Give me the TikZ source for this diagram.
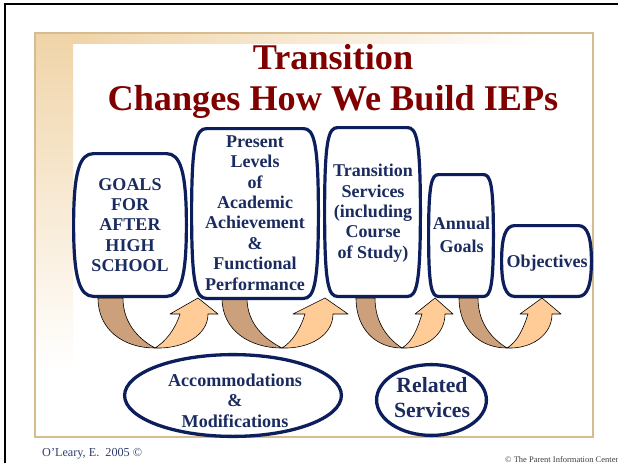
\documentclass[tikz,border=0pt]{standalone}
\usepackage{fontspec}
\setmainfont{Liberation Serif}
\usetikzlibrary{shapes.geometric}
\definecolor{navy}{HTML}{0C1F5C}
\definecolor{textnavy}{HTML}{1A2B60}
\definecolor{maroon}{HTML}{800000}
\definecolor{tanline}{HTML}{D6BC8E}
\definecolor{tanfill}{HTML}{F0D4A8}
\definecolor{arrowdk}{HTML}{CBA07A}
\definecolor{arrowlt}{HTML}{FFCB97}
\definecolor{footblue}{HTML}{2F3E70}
\tikzset{
  barrel/.style={draw=navy, line width=3.2pt, fill=white},
  ovalbox/.style={draw=navy, line width=3.3pt, fill=white},
  boxtext/.style={text=textnavy, font=\fontsize{18}{20.4}\selectfont\bfseries, align=center, anchor=base, inner sep=0pt},
  titletext/.style={text=maroon, font=\fontsize{36.2}{40}\selectfont\bfseries, anchor=base, inner sep=0pt},
  darkpart/.style={fill=arrowdk, draw=black, line width=0.6pt, line join=round},
  lightpart/.style={fill=arrowlt, draw=black, line width=0.6pt, line join=round},
}
% barrel shaped box: x0,y0,x1,y1,corner
\newcommand\barrelbox[5]{%
  \draw[barrel] ({#1+#5},#2) -- ({#3-#5},#2)
    .. controls ({#3-0.3*#5},#2) and (#3,{#2+0.9*#5}) .. (#3,{(#2+#4)/2})
    .. controls (#3,{#4-0.9*#5}) and ({#3-0.3*#5},#4) .. ({#3-#5},#4)
    -- ({#1+#5},#4)
    .. controls ({#1+0.3*#5},#4) and (#1,{#4-0.9*#5}) .. (#1,{(#2+#4)/2})
    .. controls (#1,{#2+0.9*#5}) and ({#1+0.3*#5},#2) .. cycle;}
% u-turn arrow: a, b, px, neckL, neckR, headL, headR, tipx
\newcommand\uturn[8]{%
  \filldraw[darkpart] (#1,298) .. controls (#1,330) and ({#3-0.55*(#3-#1)},348) .. (#3,348)
    .. controls ({#2+0.55*(#3-#2)},340) and (#2,325) .. (#2,298) -- cycle;
  \filldraw[lightpart] (#3,348) .. controls ({#3+0.55*(#5-#3)},349) and (#5,335) .. (#5,314)
    -- (#7,314) -- (#8,298) -- (#6,314) -- (#4,314)
    .. controls ({#4-5},330) and ({#3+10},342) .. (#3,348) -- cycle;}
\begin{document}
\begin{tikzpicture}[x=1pt,y=-1pt]
\useasboundingbox (0,0) rectangle (618,463);
\fill[white] (0,0) rectangle (618,463);
% outer black frame
\draw[black, line width=2pt] (5,463) -- (5,4) -- (618,4);
% tan gradient bands
\shade[top color=tanfill, bottom color=white] (35,33) rectangle (73,370);
\shade[left color=tanfill, right color=white] (73,33) rectangle (540,43);
\draw[tanline, line width=2pt] (35,33) rectangle (593,437);
% title
\node[titletext] (title1) at (333,69) {Transition};
\node[titletext] (title2) at (333,110) {Changes How We Build IEPs};
% arrows
\uturn{98}{123}{155}{180}{208}{170}{218}{198}
\uturn{222}{247}{282}{305}{333}{293}{348}{325}
\uturn{356}{375}{402}{422}{445}{415}{453}{435}
\uturn{459}{478}{507}{528}{552}{520}{561}{542}
% boxes
\barrelbox{73.6}{153.6}{186.4}{296.4}{20}
\barrelbox{191.6}{128.6}{318.4}{298.4}{15}
\barrelbox{324.6}{127.6}{420.4}{296.4}{13}
\barrelbox{428.6}{174.6}{493.4}{296.4}{10}
\barrelbox{501.6}{225.6}{591.4}{296.4}{13}
\node[boxtext] (b1) at (130,271.7) {GOALS\\FOR\\AFTER\\HIGH\\SCHOOL};
\node[boxtext] (b2) at (255,290) {Present\\Levels\\of\\Academic\\Achievement\\\&\\Functional\\Performance};
\node[boxtext] (b3) at (373,258.3) {Transition\\Services\\(including\\Course\\of Study)};
\node[boxtext, font=\fontsize{18}{23.4}\selectfont\bfseries] (b4) at (461.5,252.7) {Annual\\Goals};
\node[boxtext] (b5) at (547,267) {Objectives};
% ellipses
\draw[ovalbox] (233,395.5) ellipse [x radius=108.4, y radius=40.9];
\draw[ovalbox] (431.5,400) ellipse [x radius=54.9, y radius=35.4];
\node[boxtext, font=\fontsize{18.1}{20.5}\selectfont\bfseries] (acc) at (235,427) {Accommodations\\\&\\Modifications};
\node[boxtext, font=\fontsize{21.7}{25}\selectfont\bfseries] (rel) at (432,417) {Related\\Services};
% footer
\node[anchor=base west, inner sep=0pt, text=footblue, font=\fontsize{12.2}{14}\selectfont] (foot1) at (42,456) {O’Leary, E.\ \ 2005 ©};
\node[anchor=base west, inner sep=0pt, text=black!75, font=\fontsize{8.5}{9}\selectfont] (foot2) at (505,462) {© The Parent Information Center};
\end{tikzpicture}
\end{document}
